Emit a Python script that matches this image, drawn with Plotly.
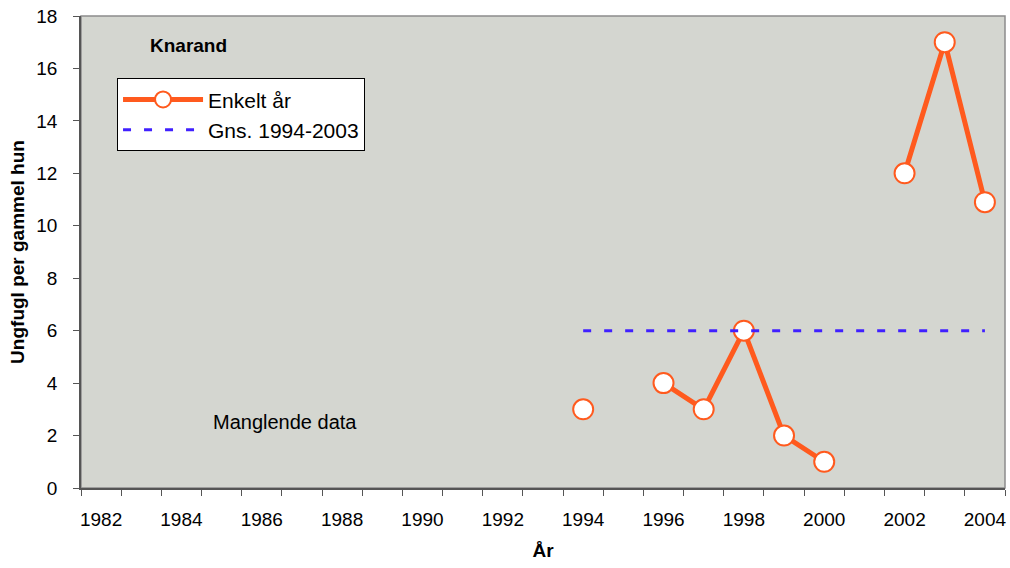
import plotly.graph_objects as go

# Data
years = list(range(1982, 2005))
enkelt_aar = [None, None, None, None, None, None, None, None, None, None, None, None,
              3, None, 4, 3, 6, 2, 1, None, 12, 17, 10.9]
gns_years = list(range(1994, 2005))
gns_values = [6, 6, 6, 6, 6, 6, 6, 6, 6, 6, 6]
tick_years = list(range(1982, 2005, 2))
tick_labels = [str(y) for y in tick_years]

FONT = "Arial, Liberation Sans, sans-serif"
ORANGE = "#FF5A1E"
BLUE = "#4020FF"

fig = go.Figure()
fig.add_trace(go.Scatter(
    x=years, y=enkelt_aar, name="Enkelt år", mode="lines+markers",
    connectgaps=False,
    line=dict(color=ORANGE, width=5),
    marker=dict(size=20, color="white", line=dict(color=ORANGE, width=2)),
))
fig.add_trace(go.Scatter(
    x=gns_years, y=gns_values, name="Gns. 1994-2003", mode="lines",
    line=dict(color=BLUE, width=3, dash="8px,13px"),
))

fig.update_layout(
    width=1010, height=568,
    margin=dict(l=81, r=5, t=16, b=80),
    paper_bgcolor="white", plot_bgcolor="#D4D6D0",
    font=dict(family=FONT, size=18, color="black"),
    showlegend=True,
    legend=dict(
        x=0.039, y=0.868, xanchor="left", yanchor="top",
        bgcolor="white", bordercolor="black", borderwidth=1,
        font=dict(size=21, family=FONT),
        itemwidth=80,
    ),
    xaxis=dict(
        range=[1981.5, 2004.5], tickmode="array", tickvals=tick_years, ticktext=tick_labels,
        ticks="", showgrid=False, zeroline=False, automargin=False,
        showline=True, linecolor="#555555", linewidth=1.5,
        ticklabelstandoff=13,
        tickfont=dict(size=19),
        minor=dict(tickmode="array", tickvals=[y - 0.5 for y in years] + [2004.5],
                   ticks="outside", ticklen=6, tickcolor="#555555", showgrid=False),
        title=dict(text="<b>År</b>", font=dict(size=19), standoff=15),
    ),
    yaxis=dict(
        range=[0, 18], dtick=2, ticks="outside", ticklen=6, tickcolor="#555555",
        showgrid=False, zeroline=False, automargin=False,
        showline=True, linecolor="#555555", linewidth=1.5,
        ticklabelstandoff=12, tickfont=dict(size=19),
        title=dict(text="<b>Ungfugl per gammel hun</b>", font=dict(size=19), standoff=7),
    ),
    shapes=[dict(type="rect", xref="paper", yref="paper", x0=0, y0=0, x1=1, y1=1,
                 line=dict(color="#8C8C8C", width=1.5), layer="below")],
    annotations=[
        dict(text="<b>Knarand</b>", xref="paper", yref="paper", x=0.116, y=0.938,
             xanchor="center", yanchor="middle", showarrow=False,
             font=dict(size=19, family=FONT)),
        dict(text="Manglende data", xref="x", yref="y", x=1986.58, y=2.53,
             xanchor="center", yanchor="middle", showarrow=False,
             font=dict(size=20, family=FONT)),
    ],
)

fig.write_html("out.html", config={"displayModeBar": False},
               post_script="document.body.style.margin='0';")
